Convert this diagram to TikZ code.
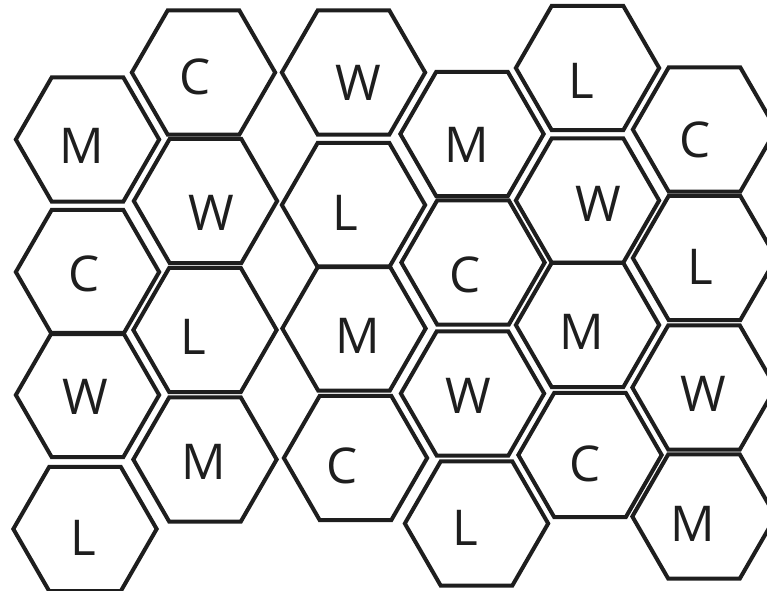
\documentclass[tikz,border=0pt]{standalone}
\usepackage{fontspec}
\setmainfont{Open Sans}
\usetikzlibrary{shapes.geometric}

\definecolor{hexline}{RGB}{30,30,30}

\begin{document}
\begin{tikzpicture}[
  x=0.75pt,
  y=-0.75pt,
  every node/.style={inner sep=0pt, outer sep=0pt},
  hexcell/.style={regular polygon, regular polygon sides=6, minimum size=107.5pt,
    draw=hexline, line width=3pt, line join=miter},
  letter/.style={font=\fontsize{37}{40}\selectfont, text=hexline, anchor=center}
]

  \path[use as bounding box] (0,0) rectangle (767,591);

  % Column 1
  \node[hexcell] (h11) at (87.5,139.5) {};
  \node[hexcell] (h12) at (87.5,272) {};
  \node[hexcell] (h13) at (87.5,395) {};
  \node[hexcell] (h14) at (85,529) {};
  \node[letter] (t11) at (82,146) {M};
  \node[letter] (t12) at (84,274) {C};
  \node[letter] (t13) at (85,397) {W};
  \node[letter] (t14) at (83,538) {L};

  % Column 2
  \node[hexcell] (h21) at (203.5,72.5) {};
  \node[hexcell] (h22) at (205.5,201) {};
  \node[hexcell] (h23) at (205,330) {};
  \node[hexcell] (h24) at (205,459.5) {};
  \node[letter] (t21) at (195,77) {C};
  \node[letter] (t22) at (211,213) {W};
  \node[letter] (t23) at (193,337) {L};
  \node[letter] (t24) at (204,462) {M};

  % Column 3
  \node[hexcell] (h31) at (353.5,72.5) {};
  \node[hexcell] (h32) at (353.5,205) {};
  \node[hexcell] (h33) at (354,328.5) {};
  \node[hexcell] (h34) at (355.5,458) {};
  \node[letter] (t31) at (358,83) {W};
  \node[letter] (t32) at (345,213) {L};
  \node[letter] (t33) at (358,336) {M};
  \node[letter] (t34) at (342,466) {C};

  % Column 4
  \node[hexcell] (h41) at (472,134) {};
  \node[hexcell] (h42) at (473,262.5) {};
  \node[hexcell] (h43) at (472.5,393.5) {};
  \node[hexcell] (h44) at (476.5,523.5) {};
  \node[letter] (t41) at (467,145) {M};
  \node[letter] (t42) at (465,275) {C};
  \node[letter] (t43) at (468,396) {W};
  \node[letter] (t44) at (465,528) {L};

  % Column 5
  \node[hexcell] (h51) at (587.5,68) {};
  \node[hexcell] (h52) at (587.5,200.5) {};
  \node[hexcell] (h53) at (587.5,325) {};
  \node[hexcell] (h54) at (590,455) {};
  \node[letter] (t51) at (581,81) {L};
  \node[letter] (t52) at (598,204) {W};
  \node[letter] (t53) at (582,332) {M};
  \node[letter] (t54) at (585,464) {C};

  % Column 6 (cut off at the right edge)
  \node[hexcell] (h61) at (704.5,129.5) {};
  \node[hexcell] (h62) at (704.5,258) {};
  \node[hexcell] (h63) at (704,387.5) {};
  \node[hexcell] (h64) at (704,516.5) {};
  \node[letter] (t61) at (695,140) {C};
  \node[letter] (t62) at (700,267) {L};
  \node[letter] (t63) at (703,394) {W};
  \node[letter] (t64) at (693,524) {M};

\end{tikzpicture}
\end{document}
